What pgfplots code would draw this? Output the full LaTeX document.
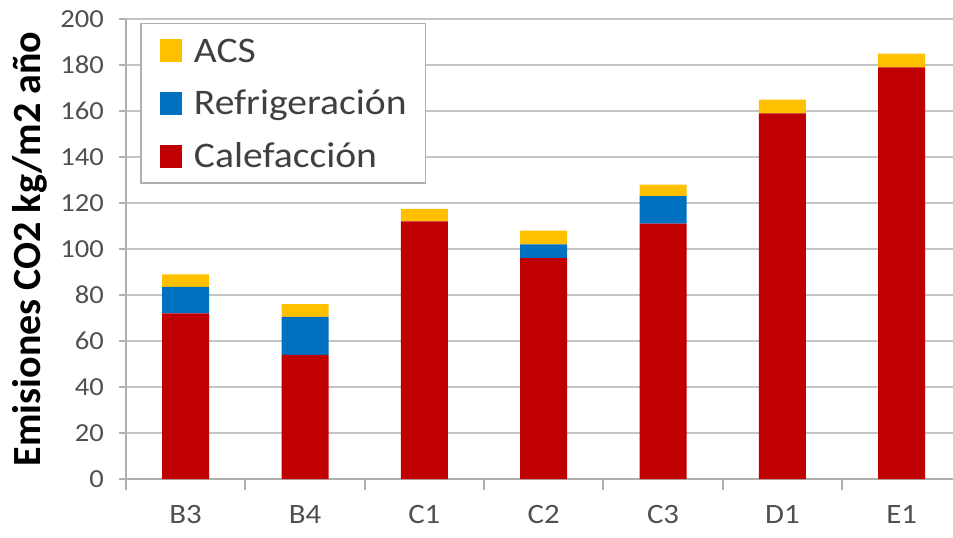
\documentclass[border=0pt]{standalone}
\usepackage{pgfplots}
\pgfplotsset{compat=1.18}
\usepackage{fontspec}
\setmainfont{Carlito}[FakeStretch=1.1]
\newfontfamily\labfont{Carlito}
\definecolor{cacs}{HTML}{FFC000}
\definecolor{cref}{HTML}{0070C0}
\definecolor{ccal}{HTML}{C00000}
\definecolor{gridc}{HTML}{C4C4C4}
\definecolor{axc}{HTML}{B0B0B0}
\definecolor{txt}{HTML}{404040}
\definecolor{ticktxt}{HTML}{505050}
\begin{document}
\begin{tikzpicture}
\begin{axis}[
  name=ax, at={(0,0)}, anchor=south west,
  scale only axis, width=413.5pt, height=230pt,
  xmin=-0.5, xmax=6.43, ymin=0, ymax=200,
  ybar stacked, bar width=23.5pt,
  axis lines=left,
  axis line style={-, draw=axc, line width=0.9pt},
  ytick={0,20,...,200},
  xtick={0,1,2,3,4,5,6},
  xticklabels={B3,B4,C1,C2,C3,D1,E1},
  minor xtick={-0.5,0.5,1.5,2.5,3.5,4.5,5.5},
  tick align=outside,
  major tick length=3.5pt,
  minor tick length=5.5pt,
  major x tick style={draw=none},
  every tick/.style={draw=axc, line width=0.9pt},
  minor tick style={draw=axc, line width=0.9pt},
  ymajorgrids,
  major grid style={draw=gridc, line width=0.9pt},
  /pgf/number format/assume math mode=true,
  yticklabel style={font=\fontsize{13}{15}\selectfont, text=ticktxt, xshift=-4pt},
  xticklabel style={font=\fontsize{14}{16}\selectfont, text=ticktxt, yshift=-6pt},
  ylabel={\textbf{Emisiones CO2 kg/m2 año}},
  ylabel style={font=\labfont\fontsize{20}{22}\selectfont, text=black, at={(axis description cs:-0.1161,0.5)}, anchor=center},
  reverse legend,
  legend cell align=left,
  legend style={at={(axis description cs:0.017,0.992)}, anchor=north west,
    draw=axc, line width=0.9pt, fill=white, text=txt,
    font=\fontsize{18}{20}\selectfont,
    inner xsep=9.5pt, inner ysep=7.75pt, row sep=14.9pt,
    nodes={inner sep=0pt, text height=11.5pt, text depth=0pt},
    /tikz/every odd column/.append style={column sep=6pt}},
  legend image code/.code={\fill[#1] (0pt,-5.75pt) rectangle (11pt,5.75pt);},
]
\addplot[fill=ccal, draw=none] coordinates {(0,72) (1,54) (2,112) (3,96) (4,111) (5,159) (6,179)};
\addplot[fill=cref, draw=none] coordinates {(0,11.5) (1,16.5) (2,0) (3,6) (4,12) (5,0) (6,0)};
\addplot[fill=cacs, draw=none] coordinates {(0,5.5) (1,5.5) (2,5.5) (3,6) (4,5) (5,6) (6,6)};
\legend{Calefacción, Refrigeración, ACS}
\end{axis}
\pgfresetboundingbox
\path (-63pt,-29pt) rectangle (413.5pt,239.5pt);
\end{tikzpicture}
\end{document}
